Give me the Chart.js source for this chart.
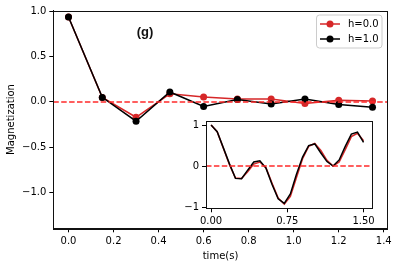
<!DOCTYPE html>
<html>
<head>
<meta charset="utf-8">
<script src="https://cdn.jsdelivr.net/npm/chart.js@4/dist/chart.umd.min.js"></script>
<style>
  html, body { margin: 0; padding: 0; background: #fff; }
  #wrap { position: relative; width: 398px; height: 266px; }
  #main { position: absolute; left: 0; top: 0; }
  #inset { position: absolute; left: 180px; top: 112px; }
</style>
</head>
<body>
<div id="wrap">
  <canvas id="main" width="398" height="266"></canvas>
  <canvas id="inset" width="198" height="120"></canvas>
</div>
<script>
// ---- data ----
const mainTimes = [0.0, 0.15, 0.30, 0.45, 0.60, 0.75, 0.90, 1.05, 1.20, 1.35];
const magH0 = [0.94, 0.05, -0.17, 0.09, 0.055, 0.033, 0.033, -0.018, 0.019, 0.011];
const magH1 = [0.94, 0.05, -0.214, 0.11, -0.05, 0.027, -0.022, 0.033, -0.029, -0.059];

const insetTimes = [0.00, 0.06, 0.12, 0.18, 0.24, 0.30, 0.36, 0.42, 0.48, 0.54, 0.60, 0.66, 0.72,
                    0.78, 0.84, 0.90, 0.96, 1.02, 1.08, 1.14, 1.20, 1.26, 1.32, 1.38, 1.44, 1.50];
const insetH0 = [1.00, 0.84, 0.44, 0.04, -0.29, -0.30, -0.14, 0.05, 0.10, -0.04, -0.42, -0.78, -0.93,
                 -0.74, -0.28, 0.18, 0.48, 0.55, 0.38, 0.14, 0.00, 0.10, 0.40, 0.72, 0.80, 0.62];
const insetH1 = [1.00, 0.84, 0.45, 0.06, -0.30, -0.31, -0.10, 0.10, 0.13, -0.05, -0.45, -0.80, -0.91,
                 -0.68, -0.20, 0.22, 0.50, 0.54, 0.32, 0.11, 0.00, 0.15, 0.48, 0.78, 0.83, 0.58];

const mainXTicks = [0.0, 0.2, 0.4, 0.6, 0.8, 1.0, 1.2, 1.4];
const mainYTicks = [-1.0, -0.5, 0.0, 0.5, 1.0];
const insetXTicks = [0.0, 0.75, 1.5];
const insetYTicks = [-1, 0, 1];
const seriesLabels = ['h=0.0', 'h=1.0'];
const panelLabel = '(g)';

// ---- styles ----
const RED = '#d62728';
const DASH_RED = '#ff2a2a';
const BLACK = '#000000';
const FONT = 'DejaVu Sans';
const fmt = (v, d) => v.toFixed(d).replace('-', '\u2212');

function pts(xs, ys) { return xs.map((x, i) => ({ x: x, y: ys[i] })); }

const frame = {
  id: 'frame',
  beforeDraw(chart, args, opts) {
    const { ctx, chartArea: a } = chart;
    ctx.save();
    if (opts.fillCanvas) { ctx.fillStyle = '#fff'; ctx.fillRect(0, 0, chart.width, chart.height); }
    ctx.fillStyle = '#fff';
    ctx.fillRect(a.left, a.top, a.right - a.left, a.bottom - a.top);
    ctx.restore();
  },
  afterDraw(chart) {
    const { ctx, chartArea: a } = chart;
    ctx.save();
    ctx.strokeStyle = '#111';
    ctx.lineWidth = 1;
    ctx.strokeRect(Math.round(a.left) + 0.5, Math.round(a.top) + 0.5,
                   Math.round(a.right - a.left), Math.round(a.bottom - a.top));
    ctx.restore();
  }
};

const decor = {
  id: 'decor',
  afterDraw(chart) {
    const { ctx } = chart;
    ctx.save();
    // panel label
    ctx.font = 'bold 13px "Liberation Sans"';
    ctx.fillStyle = '#111';
    ctx.textAlign = 'center';
    ctx.textBaseline = 'middle';
    ctx.fillText(panelLabel, 145, 32);
    // legend
    const bx = 316.5, by = 15, bw = 65.5, bh = 33, r = 3;
    ctx.globalAlpha = 0.8;
    ctx.fillStyle = '#fff';
    ctx.beginPath();
    ctx.roundRect(bx, by, bw, bh, r);
    ctx.fill();
    ctx.globalAlpha = 1;
    ctx.strokeStyle = '#cccccc';
    ctx.lineWidth = 1;
    ctx.stroke();
    const cols = [RED, BLACK];
    const rows = [24, 39];
    ctx.font = '10px "' + FONT + '"';
    ctx.textAlign = 'left';
    for (let i = 0; i < 2; i++) {
      const y = rows[i];
      ctx.strokeStyle = cols[i];
      ctx.lineWidth = 1.5;
      ctx.beginPath(); ctx.moveTo(320, y); ctx.lineTo(340, y); ctx.stroke();
      ctx.fillStyle = cols[i];
      ctx.beginPath(); ctx.arc(330, y, 3.5, 0, Math.PI * 2); ctx.fill();
      ctx.fillStyle = '#000';
      ctx.fillText(seriesLabels[i], 348, y + 0.5);
    }
    ctx.restore();
  }
};

function tickSetter(list) {
  return function (scale) { scale.ticks = list.map(v => ({ value: v })); };
}

const mainXMin = -0.0675, mainXMax = 1.4175;

new Chart(document.getElementById('main'), {
  type: 'line',
  data: {
    datasets: [
      {
        label: 'zero', data: [{ x: mainXMin, y: 0 }, { x: mainXMax, y: 0 }],
        borderColor: DASH_RED, borderWidth: 1.5, borderDash: [5.5, 2.4],
        pointRadius: 0, order: 0
      },
      {
        label: seriesLabels[1], data: pts(mainTimes, magH1),
        borderColor: BLACK, backgroundColor: BLACK, borderWidth: 1.5,
        pointRadius: 3.5, pointBorderWidth: 0, pointBackgroundColor: BLACK, order: 1
      },
      {
        label: seriesLabels[0], data: pts(mainTimes, magH0),
        borderColor: RED, backgroundColor: RED, borderWidth: 1.5,
        pointRadius: 3.5, pointBorderWidth: 0, pointBackgroundColor: RED, order: 2
      }
    ]
  },
  options: {
    responsive: false, animation: false, devicePixelRatio: 1,
    layout: { padding: { left: 0, top: 10.7, right: 10.3, bottom: 0 } },
    plugins: { legend: { display: false }, tooltip: { enabled: false }, frame: { fillCanvas: true } },
    elements: { line: { tension: 0 } },
    scales: {
      x: {
        type: 'linear', min: mainXMin, max: mainXMax,
        afterBuildTicks: tickSetter(mainXTicks),
        afterFit(s) { s.height = 37.7; },
        grid: { drawOnChartArea: false, drawTicks: true, tickLength: 4, tickColor: '#000' },
        border: { display: true, color: '#111' },
        ticks: { autoSkip: false, maxRotation: 0, padding: 3, color: '#000',
                 font: { family: FONT, size: 10 }, callback: v => fmt(v, 1) },
        title: { display: true, text: 'time(s)', color: '#000', font: { family: FONT, size: 10 },
                 padding: { top: 4, bottom: 4 } }
      },
      y: {
        type: 'linear', min: -1.4, max: 1.01,
        afterBuildTicks: tickSetter(mainYTicks),
        afterFit(s) { s.width = 53.3; },
        grid: { drawOnChartArea: false, drawTicks: true, tickLength: 4, tickColor: '#000' },
        border: { display: true, color: '#111' },
        ticks: { autoSkip: false, padding: 3, color: '#000',
                 font: { family: FONT, size: 10 }, callback: v => fmt(v, 1) },
        title: { display: true, text: 'Magnetization', color: '#000', font: { family: FONT, size: 10 },
                 padding: { top: 5, bottom: 5 } }
      }
    }
  },
  plugins: [frame, decor]
});

const inXMin = -0.05, inXMax = 1.58;

new Chart(document.getElementById('inset'), {
  type: 'line',
  data: {
    datasets: [
      {
        label: 'zero', data: [{ x: inXMin, y: 0 }, { x: inXMax, y: 0 }],
        borderColor: DASH_RED, borderWidth: 1.5, borderDash: [5.5, 2.4],
        pointRadius: 0, order: 0
      },
      {
        label: seriesLabels[1], data: pts(insetTimes, insetH1),
        borderColor: BLACK, borderWidth: 1.5, pointRadius: 0, order: 1
      },
      {
        label: seriesLabels[0], data: pts(insetTimes, insetH0),
        borderColor: RED, borderWidth: 1.5, pointRadius: 0, order: 2
      }
    ]
  },
  options: {
    responsive: false, animation: false, devicePixelRatio: 1,
    layout: { padding: { left: 0, top: 9, right: 6.3, bottom: 0 } },
    plugins: { legend: { display: false }, tooltip: { enabled: false }, frame: { fillCanvas: false } },
    elements: { line: { tension: 0 } },
    scales: {
      x: {
        type: 'linear', min: inXMin, max: inXMax,
        afterBuildTicks: tickSetter(insetXTicks),
        afterFit(s) { s.height = 23.7; },
        grid: { drawOnChartArea: false, drawTicks: true, tickLength: 4, tickColor: '#000' },
        border: { display: true, color: '#111' },
        ticks: { autoSkip: false, maxRotation: 0, padding: 3, color: '#000',
                 font: { family: FONT, size: 10 }, callback: v => fmt(v, 2) }
      },
      y: {
        type: 'linear', min: -1.03, max: 1.10,
        afterBuildTicks: tickSetter(insetYTicks),
        afterFit(s) { s.width = 26; },
        grid: { drawOnChartArea: false, drawTicks: true, tickLength: 4, tickColor: '#000' },
        border: { display: true, color: '#111' },
        ticks: { autoSkip: false, padding: 3, color: '#000',
                 font: { family: FONT, size: 10 }, callback: v => fmt(v, 0) }
      }
    }
  },
  plugins: [frame]
});
</script>
</body>
</html>
